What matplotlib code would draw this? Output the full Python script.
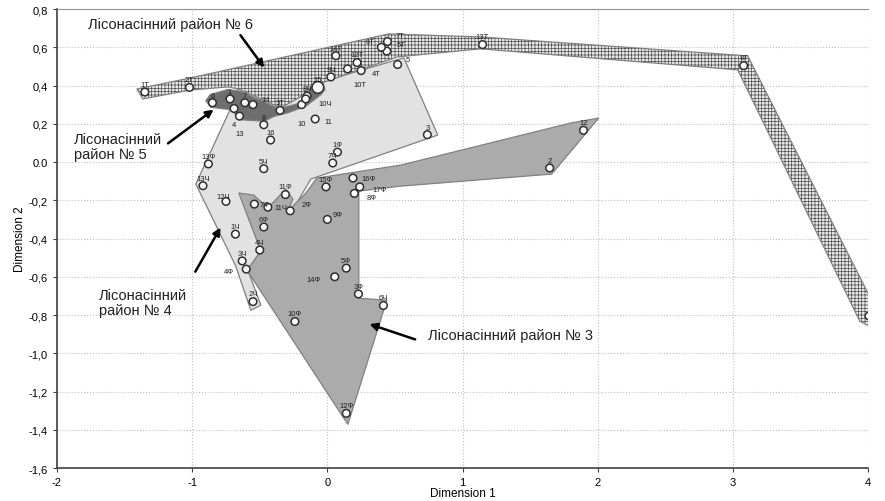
import numpy as np
import matplotlib.pyplot as plt
from matplotlib.patches import Polygon

plt.rcParams['font.family'] = ['Liberation Sans', 'DejaVu Sans']
plt.rcParams['hatch.linewidth'] = 0.5
plt.rcParams['axes.unicode_minus'] = False

# ---- points (label, dim1, dim2) ----
pt_labels = ['1Т', '2Т', '3Т', '4Т', '5Т', '6Т', '7Т', '8Т', '9Т', '10Т', '12Т', '13Т', '14Т',
             '1', '2', '3', '4', '5', '6', '7', '8', '10', '11', '12', '13', '14', '15', '16',
             '1Ч', '2Ч', '3Ч', '4Ч', '5Ч', '6Ч', '7Ч', '8Ч', '9Ч', '10Ч', '11Ч', '12Ч', '13Ч',
             '1Ф', '2Ф', '3Ф', '4Ф', '5Ф', '6Ф', '7Ф', '8Ф', '9Ф', '10Ф', '11Ф', '12Ф', '13Ф',
             '14Ф', '15Ф', '16Ф', '17Ф']
pt_x = [-1.35, -1.02, -0.35, 0.25, 0.44, 0.40, 0.445, 3.08, 4.007, 0.15, 0.22, 1.148, 0.063,
        -0.72, 1.645, 0.74, -0.69, 0.52, -0.85, -0.61, -0.47, -0.19, -0.09, 1.895, -0.65, -0.55, -0.07, -0.42,
        -0.68, -0.55, -0.63, -0.50, -0.47, 0.415, 0.04, -0.15, 0.026, -0.16, -0.44, -0.75, -0.92,
        0.075, -0.275, 0.23, -0.60, 0.14, -0.47, -0.54, 0.20, 0.0, -0.24, -0.31, 0.14, -0.88,
        0.055, -0.01, 0.19, 0.24]
pt_y = [0.366, 0.39, 0.27, 0.478, 0.58, 0.60, 0.63, 0.504, -0.805, 0.487, 0.52, 0.614, 0.556,
        0.33, -0.031, 0.143, 0.28, 0.51, 0.31, 0.31, 0.195, 0.30, 0.225, 0.166, 0.24, 0.30, 0.39, 0.115,
        -0.377, -0.73, -0.517, -0.46, -0.035, -0.75, -0.005, 0.345, 0.445, 0.33, -0.236, -0.206, -0.124,
        0.052, -0.255, -0.69, -0.56, -0.555, -0.34, -0.22, -0.164, -0.30, -0.834, -0.17, -1.314, -0.01,
        -0.60, -0.13, -0.084, -0.13]

# ---- region outlines ----
reg4_x = [-0.714, 0.566, 0.817, -0.122, -0.270, -0.477, -0.588, -0.492, -0.566, -0.677, -0.839, -0.973]
reg4_y = [0.283, 0.545, 0.141, -0.089, -0.267, -0.450, -0.565, -0.749, -0.775, -0.545, -0.309, -0.115]

reg3_x = [-0.655, -0.544, -0.440, -0.307, -0.255, -0.292, -0.159, -0.078, 0.544, 1.801, 2.008, 1.660,
          0.544, 0.233, 0.233, 0.440, 0.152, -0.595, -0.492]
reg3_y = [-0.162, -0.173, -0.241, -0.141, -0.194, -0.257, -0.162, -0.084, -0.016, 0.204, 0.230, -0.063,
          -0.126, -0.152, -0.712, -0.723, -1.372, -0.565, -0.466]

reg6_x = [-1.409, -1.010, 0.455, 1.135, 3.110, 4.094, 4.013, 3.939, 3.036, 1.135, 0.521, -0.018,
          -0.107, -0.174, -0.344, -0.640, -0.729, -1.010, -1.365]
reg6_y = [0.382, 0.440, 0.670, 0.654, 0.555, -0.817, -0.859, -0.832, 0.482, 0.592, 0.550, 0.419,
          0.403, 0.351, 0.283, 0.377, 0.393, 0.377, 0.330]

reg5_x = [-0.899, -0.867, -0.738, -0.640, -0.357, -0.196, -0.159, -0.098, -0.036, -0.018, -0.048,
          -0.159, -0.294, -0.393, -0.467, -0.640, -0.714, -0.862]
reg5_y = [0.321, 0.352, 0.379, 0.370, 0.279, 0.309, 0.361, 0.414, 0.419, 0.379, 0.352,
          0.292, 0.257, 0.239, 0.213, 0.221, 0.274, 0.286]

# label offsets (points) for labels not placed straight above
offsets = {'10Т': (4, -9), '4Т': (8, -2), '5Т': (7, 2), '7Т': (6, 2), '6Т': (-5, 2), '5': (6, 1),
           '11': (7, -2), '13': (0, -10), '10': (0, -11), '10Ч': (9, -3), '14Ф': (-10, -2),
           '4Ф': (-9, -2), '8Ф': (9, -3), '17Ф': (9, -2), '16Ф': (6, 0), '11Ч': (5, 0),
           '9Ф': (4, 1), '2Ф': (8, 2), '7Ф': (4, 0), '14': (6, 1), '12Ч': (-2, 1),
           '4': (0, -9), '9Т': (0, 3)}

fig = plt.figure(figsize=(8.85, 5.02), dpi=100)
ax = fig.add_axes([0.0644, 0.0657, 0.9164, 0.9143])

edge = '#808080'
ax.add_patch(Polygon(np.column_stack([reg4_x, reg4_y]), closed=True, facecolor='#e2e2e2',
                     edgecolor=edge, lw=0.9, zorder=2))
ax.add_patch(Polygon(np.column_stack([reg3_x, reg3_y]), closed=True, facecolor='#ababab',
                     edgecolor=edge, lw=0.9, zorder=3))
ax.add_patch(Polygon(np.column_stack([reg6_x, reg6_y]), closed=True, facecolor='#e8e8e8',
                     edgecolor='#505050', hatch='+++++', lw=0, zorder=4))
ax.add_patch(Polygon(np.column_stack([reg6_x, reg6_y]), closed=True, facecolor='none',
                     edgecolor=edge, lw=0.9, zorder=4))
ax.add_patch(Polygon(np.column_stack([reg5_x, reg5_y]), closed=True, facecolor='#6e6e6e',
                     edgecolor=edge, lw=0.9, zorder=5))

sizes = [30 if l != '15' else 70 for l in pt_labels]
ax.scatter(pt_x, pt_y, s=sizes, facecolor='white', edgecolor='#303030', linewidths=1.1, zorder=6)
for lab, x, y in zip(pt_labels, pt_x, pt_y):
    dx, dy = offsets.get(lab, (0, 3))
    va = 'bottom' if dy > 0 else ('top' if dy < -5 else 'center')
    ha = 'center' if abs(dx) < 3 else ('left' if dx > 0 else 'right')
    ax.annotate(lab, (x, y), xytext=(dx, dy), textcoords='offset points', fontsize=5.5,
                ha=ha, va=va, color='#202020', zorder=7)

# region captions and arrows
cap = dict(fontsize=10.5, color='#202020', zorder=8)
ax.text(-1.771, 0.722, 'Лісонасінний район № 6', ha='left', va='center', **cap)
ax.text(-1.875, 0.079, 'Лісонасінний\nрайон № 5', ha='left', va='center', linespacing=1.1, **cap)
ax.text(-1.69, -0.733, 'Лісонасінний\nрайон № 4', ha='left', va='center', linespacing=1.1, **cap)
ax.text(0.743, -0.905, 'Лісонасінний район № 3', ha='left', va='center', **cap)
arr = dict(arrowstyle='-|>', color='black', lw=1.8, mutation_scale=11)
ax.annotate('', xy=(-0.455, 0.482), xytext=(-0.655, 0.675), arrowprops=arr, zorder=8)
ax.annotate('', xy=(-0.825, 0.283), xytext=(-1.195, 0.089), arrowprops=arr, zorder=8)
ax.annotate('', xy=(-0.780, -0.330), xytext=(-0.987, -0.586), arrowprops=arr, zorder=8)
ax.annotate('', xy=(0.292, -0.843), xytext=(0.669, -0.932), arrowprops=arr, zorder=8)

ax.set_xlim(-2, 4)
ax.set_ylim(-1.6, 0.8)
xt = np.arange(-2, 5, 1)
ax.set_xticks(xt)
ax.set_xticklabels([str(v) for v in xt])
yt = np.round(np.arange(-1.6, 0.81, 0.2), 1)
ax.set_yticks(yt)
ax.set_yticklabels(['0.0' if v == 0 else f'{v:.1f}'.replace('.', ',') for v in yt])
ax.tick_params(labelsize=8, length=3, color='#404040')
ax.grid(True, color='#c0c0c0', linestyle=':', linewidth=0.8)
ax.set_axisbelow(True)
for s in ['left', 'bottom']:
    ax.spines[s].set_color('#404040')
    ax.spines[s].set_linewidth(1.2)
ax.spines['top'].set_color('#909090')
ax.spines['right'].set_visible(False)
ax.set_xlabel('Dimension 1', fontsize=8.5, labelpad=0)
ax.set_ylabel('Dimension 2', fontsize=8.5, labelpad=2)

plt.savefig('out.png', dpi=100)
plt.close(fig)
